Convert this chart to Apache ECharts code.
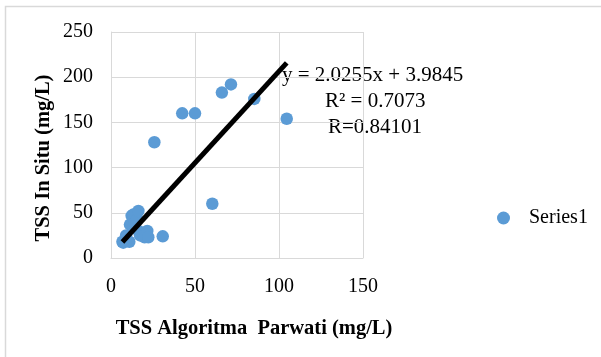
<!DOCTYPE html>
<html><head><meta charset="utf-8">
<script src="https://cdn.jsdelivr.net/npm/echarts@6/dist/echarts.min.js"></script>
<style>html,body{margin:0;padding:0;background:#fff}#c{width:601px;height:357px}</style>
</head><body><div id="c"></div>
<script>
const xVals = [6.8,7.3,9,10.9,11.3,12.3,13.3,14.3,15.5,16.3,16.3,17.3,19.2,20,21.6,22.2,30.8,25.8,42.4,50,60.3,66,71.4,85.3,104.6];
const yVals = [18,17,25,18,37,46.6,48,39,43,52,30,25,25,23,30,23,24,128,160,160,60,183,192,176,154];
const trendSlope = 2.0255, trendIntercept = 3.9845;
const trendRange = [6.8, 104.6];
const xTicks = [0,50,100,150];
const yTicks = [0,50,100,150,200,250];
const labels = ['y = 2.0255x + 3.9845','R² = 0.7073','R=0.84101'];
const seriesName = 'Series1';

const pts = xVals.map((x,i)=>[x,yVals[i]]);
const trend = trendRange.map(x=>[x, trendSlope*x+trendIntercept]);
const font = '"Liberation Serif","Times New Roman",serif';
const chart = echarts.init(document.getElementById('c'));
chart.setOption({
  animation:false,
  textStyle:{fontFamily:font},
  grid:{left:111,right:238,top:32,bottom:99},
  xAxis:{type:'value',min:xTicks[0],max:xTicks[xTicks.length-1],interval:50,
    name:'TSS Algoritma  Parwati (mg/L)',nameLocation:'middle',nameGap:60,
    nameTextStyle:{fontFamily:font,fontWeight:'bold',fontSize:20.5,color:'#000',padding:[0,0,0,34]},
    axisLine:{show:true,lineStyle:{color:'#d9d9d9'}},axisTick:{show:false},
    axisLabel:{fontFamily:font,fontSize:20,color:'#000',margin:19},
    splitLine:{show:true,lineStyle:{color:'#d9d9d9'}}},
  yAxis:{type:'value',min:yTicks[0],max:yTicks[yTicks.length-1],interval:50,
    name:'TSS In Situ (mg/L)',nameLocation:'middle',nameGap:57,nameRotate:90,
    nameTextStyle:{fontFamily:font,fontWeight:'bold',fontSize:20.5,color:'#000',padding:[0,26,0,0]},
    axisLine:{show:true,lineStyle:{color:'#d9d9d9'}},axisTick:{show:false},
    axisLabel:{fontFamily:font,fontSize:20,color:'#000',margin:18},
    splitLine:{show:true,lineStyle:{color:'#d9d9d9'}}},
  legend:{data:[{name:seriesName,icon:'circle'}],left:492,top:203,itemWidth:13,itemHeight:13,itemGap:10,
    textStyle:{fontFamily:font,fontSize:20,color:'#000',padding:[0,0,0,14]}},
  series:[
    {name:seriesName,type:'scatter',data:pts,symbolSize:12.5,itemStyle:{color:'#5b9bd5',opacity:1},z:2},
    {name:'trend',type:'line',data:trend,symbol:'none',lineStyle:{color:'#000',width:5},z:3}
  ],
  graphic:[
    {type:'rect',shape:{x:5.5,y:6.5,width:640,height:400},style:{fill:'none',stroke:'#d9d9d9',lineWidth:1.5},silent:true},
    {type:'text',x:282,y:75,style:{text:labels[0],font:'21px '+font,fill:'#000',verticalAlign:'middle'}},
    {type:'text',x:325,y:101,style:{text:labels[1],font:'21px '+font,fill:'#000',verticalAlign:'middle'}},
    {type:'text',x:328,y:127,style:{text:labels[2],font:'21px '+font,fill:'#000',verticalAlign:'middle'}}
  ]
});
</script></body></html>
